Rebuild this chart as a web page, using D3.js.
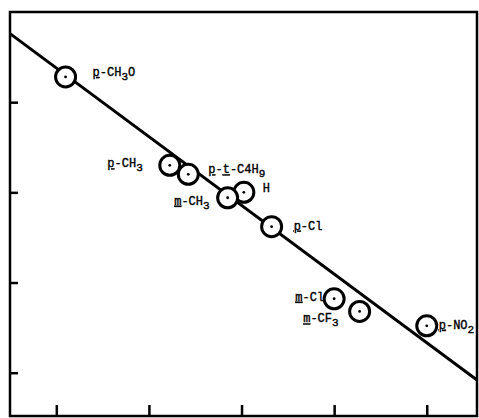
<!DOCTYPE html>
<html>
<head>
<meta charset="utf-8">
<script src="https://cdn.jsdelivr.net/npm/d3@7"></script>
<style>
  html, body { margin: 0; padding: 0; background: #fff; }
  svg text { font-family: "Liberation Mono", "DejaVu Sans Mono", monospace; fill: #000; stroke: #000; stroke-width: 0.35; }
</style>
</head>
<body>
<div id="chart"></div>
<script>
/**
 * data (sigma+ vs log k/k0)
 */
const substituents = ["_p_-CH{3}O", "_p_-CH{3}", "_p_-_t_-C4H{9}", "_m_-CH{3}", "H",
                      "_p_-Cl", "_m_-Cl", "_m_-CF{3}", "_p_-NO{2}"];
const sigmaValues = [-0.76, -0.31, -0.23, -0.06, 0.01, 0.13, 0.40, 0.51, 0.80];
const logkValues  = [0.64, 0.15, 0.10, -0.03, 0.00, -0.19, -0.59, -0.66, -0.74];

const xTicks = [-0.8, -0.4, 0, 0.4, 0.8];
const yTicks = [0.5, 0, -0.5, -1.0];

// least squares line, ends at the frame
const fitX = [-1.0, 1.017];
const fitY = [0.88, -1.04];

/**
 * layout
 */
const WIDTH = 479;
const HEIGHT = 418;
const LEFT = 10, TOP = 12, RIGHT = 477, BOTTOM = 416;
const R = 10;

// label placement relative to each circle: [dx, dy, anchor]
const labelLayout = [
    [27, -1, "start"],
    [-27, 2, "end"],
    [20, -1, "start"],
    [-18, 7, "end"],
    [19, 0, "start"],
    [22, 3, "start"],
    [-10, 2, "end"],
    [-21, 11, "end"],
    [12, 3, "start"]
];

const x = d3.scaleLinear().domain([-1.0, 1.017]).range([LEFT, RIGHT]);
const y = d3.scaleLinear().domain([-1.24, 1.0]).range([BOTTOM, TOP]);

const svg = d3.select("#chart").append("svg")
    .attr("width", WIDTH)
    .attr("height", HEIGHT);

// frame
svg.append("rect")
    .attr("x", LEFT)
    .attr("y", TOP)
    .attr("width", RIGHT - LEFT)
    .attr("height", BOTTOM - TOP)
    .attr("fill", "none")
    .attr("stroke", "#000")
    .attr("stroke-width", 2.5);

// inward ticks, no labels
svg.append("g")
    .attr("transform", `translate(${LEFT},0)`)
    .call(d3.axisRight(y).tickValues(yTicks).tickSize(8).tickFormat(""))
    .call(g => g.select(".domain").remove())
    .call(g => g.selectAll("line").attr("stroke-width", 2.5).attr("stroke", "#000"));

svg.append("g")
    .attr("transform", `translate(0,${BOTTOM})`)
    .call(d3.axisTop(x).tickValues(xTicks).tickSize(11).tickFormat(""))
    .call(g => g.select(".domain").remove())
    .call(g => g.selectAll("line").attr("stroke-width", 2.5).attr("stroke", "#000"));

// fitted line
svg.append("line")
    .attr("x1", x(fitX[0]))
    .attr("y1", y(fitY[0]))
    .attr("x2", x(fitX[1]))
    .attr("y2", y(fitY[1]))
    .attr("stroke", "#000")
    .attr("stroke-width", 3);

const points = substituents.map((s, i) => ({name: s, sx: sigmaValues[i], ly: logkValues[i], i: i}));

// reversed so the earlier circle of an overlapping pair sits on top
const pt = svg.selectAll(".pt")
    .data(points.slice().reverse())
    .enter()
    .append("g")
    .attr("class", "pt")
    .attr("transform", d => `translate(${x(d.sx)},${y(d.ly)})`);

pt.append("circle")
    .attr("r", R)
    .attr("fill", "#fff")
    .attr("stroke", "#000")
    .attr("stroke-width", 3);

pt.append("circle")
    .attr("r", 1.4)
    .attr("fill", "#000");

// labels: _x_ = underlined, {n} = subscript
const labels = svg.append("g");
points.forEach(d => {
    const lay = labelLayout[d.i];
    const t = labels.append("text")
        .attr("x", x(d.sx) + lay[0])
        .attr("y", y(d.ly) + lay[1])
        .attr("text-anchor", lay[2])
        .attr("font-size", 12);
    const parts = d.name.split(/(_[^_]+_|\{[^}]+\})/).filter(p => p.length);
    let sub = false;
    parts.forEach(p => {
        if (p[0] === "_") {
            t.append("tspan").text(p.slice(1, -1))
                .attr("dy", sub ? -4 : 0)
                .style("text-decoration", "underline");
            sub = false;
        } else if (p[0] === "{") {
            t.append("tspan").text(p.slice(1, -1))
                .attr("font-size", 11)
                .attr("dy", 4);
            sub = true;
        } else {
            t.append("tspan").text(p).attr("dy", sub ? -4 : 0);
            sub = false;
        }
    });
});
</script>
</body>
</html>
